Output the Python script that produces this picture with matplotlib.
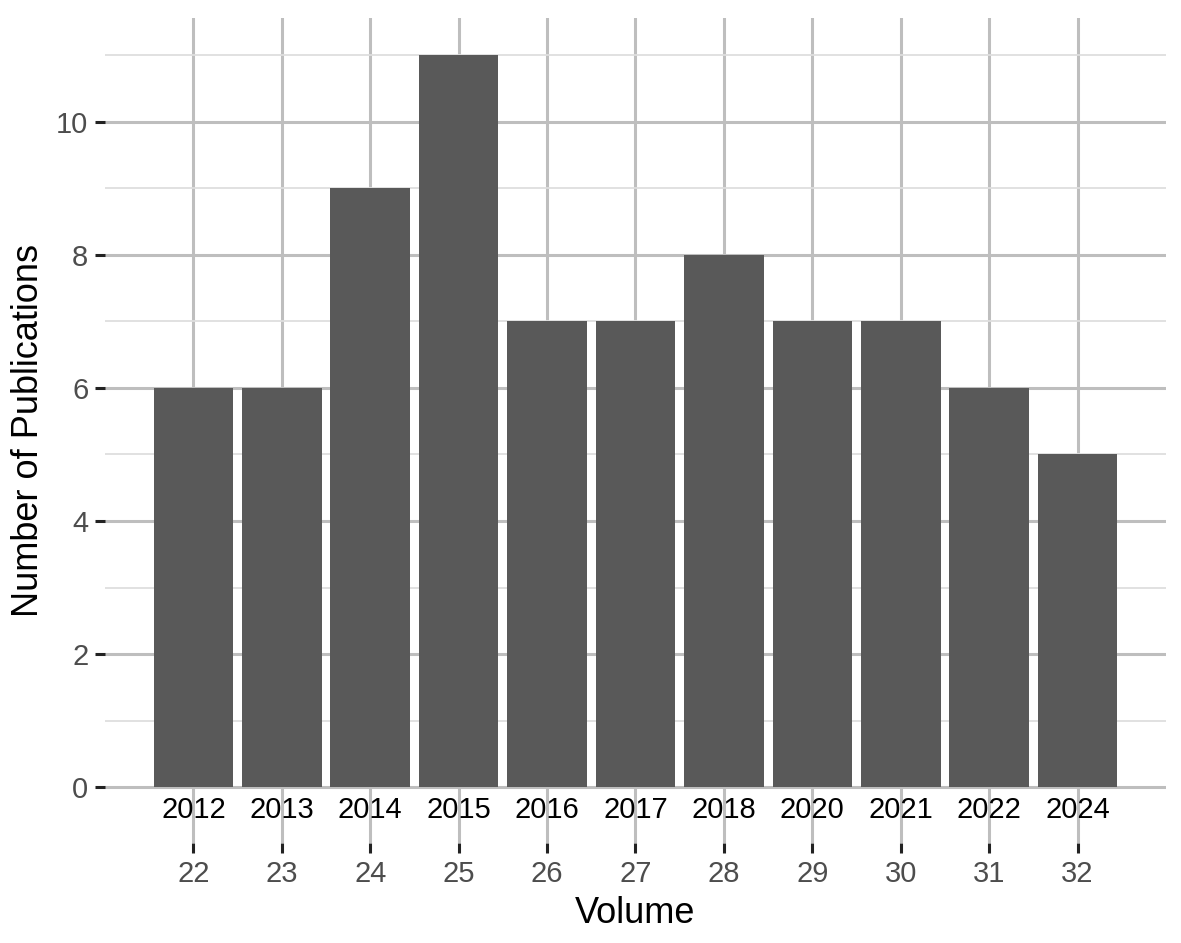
import matplotlib
matplotlib.use("Agg")
import matplotlib.pyplot as plt
from matplotlib.ticker import MultipleLocator

# data
volumes = [22, 23, 24, 25, 26, 27, 28, 29, 30, 31, 32]
years = ["2012", "2013", "2014", "2015", "2016", "2017", "2018", "2020", "2021", "2022", "2024"]
counts = [6, 6, 9, 11, 7, 7, 8, 7, 7, 6, 5]

BAR, MAJOR, MINOR, LAB = "#595959", "#bebebe", "#dedede", "#4d4d4d"
plt.rcParams["font.family"] = ["Liberation Sans", "DejaVu Sans"]

fig = plt.figure(figsize=(11.81, 9.43), dpi=100)
ax = fig.add_axes([0.0889, 0.106, 0.8984, 0.8749])

ax.bar(volumes, counts, width=0.9, color=BAR, zorder=3)
for v, y in zip(volumes, years):
    ax.text(v, -0.34, y, ha="center", va="center", fontsize=21, color="black", zorder=4)

ax.set_xlim(21, 33)
ax.set_ylim(-0.84, 11.56)
ax.set_xticks(volumes)
ax.set_xticklabels([str(v) for v in volumes])
ax.yaxis.set_major_locator(MultipleLocator(2))
ax.yaxis.set_minor_locator(MultipleLocator(1))
ax.set_yticks([0, 2, 4, 6, 8, 10])

ax.grid(axis="y", which="major", color=MAJOR, lw=2.2, zorder=0)
ax.grid(axis="y", which="minor", color=MINOR, lw=1.3, zorder=0)
ax.grid(axis="x", which="major", color=MAJOR, lw=2.2, zorder=0)
ax.set_axisbelow(True)
for sp in ax.spines.values():
    sp.set_visible(False)

ax.tick_params(axis="both", which="major", length=7, width=2.2, color="#222222",
               labelsize=21, labelcolor=LAB, pad=5)
ax.tick_params(axis="y", which="minor", length=0)

ax.set_xlabel("Volume", fontsize=26, color="black", labelpad=6)
ax.set_ylabel("Number of Publications", fontsize=26, color="black", labelpad=7)

fig.savefig("out.png", dpi=100)
